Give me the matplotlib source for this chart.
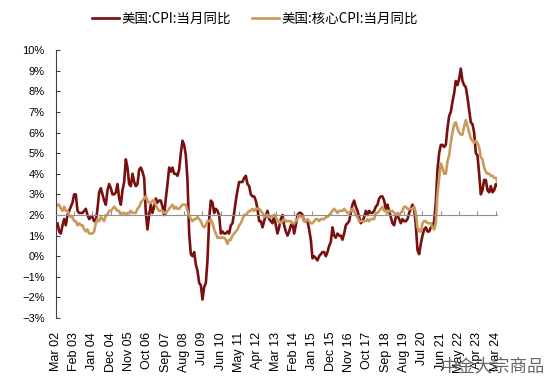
import numpy as np
import pandas as pd
import matplotlib
matplotlib.use('Agg')
import matplotlib.pyplot as plt

# 美国CPI同比, 2002-03 ~ 2024-04 (%)
cpi = [1.5, 1.6, 1.2, 1.1, 1.5, 1.8, 1.5, 2.0, 2.2, 2.4,
       2.6, 3.0, 3.0, 2.2, 2.1, 2.1, 2.1, 2.2, 2.3, 2.0, 1.8, 1.9,
       1.9, 1.7, 1.7, 2.3, 3.1, 3.3, 3.0, 2.7, 2.5, 3.2, 3.5, 3.3,
       3.0, 3.0, 3.1, 3.5, 2.8, 2.5, 3.2, 3.6, 4.7, 4.3, 3.5, 3.4,
       4.0, 3.6, 3.4, 3.5, 4.2, 4.3, 4.1, 3.8, 2.1, 1.3, 2.0, 2.5,
       2.1, 2.4, 2.8, 2.6, 2.7, 2.7, 2.4, 2.0, 2.8, 3.5, 4.3, 4.1,
       4.3, 4.0, 4.0, 3.9, 4.2, 5.0, 5.6, 5.4, 4.9, 3.7, 1.1, 0.1,
       0.0, 0.2, -0.4, -0.7, -1.3, -1.4, -2.1, -1.5, -1.3, -0.2, 1.8, 2.7,
       2.6, 2.1, 2.3, 2.2, 2.0, 1.1, 1.2, 1.1, 1.1, 1.2, 1.1, 1.5,
       1.6, 2.1, 2.7, 3.2, 3.6, 3.6, 3.6, 3.8, 3.9, 3.5, 3.4, 3.0,
       2.9, 2.9, 2.7, 2.3, 1.7, 1.7, 1.4, 1.7, 2.0, 2.2, 1.8, 1.7,
       1.6, 2.0, 1.5, 1.1, 1.4, 1.8, 2.0, 1.5, 1.2, 1.0, 1.2, 1.5,
       1.6, 1.1, 1.5, 2.0, 2.1, 2.1, 2.0, 1.7, 1.7, 1.7, 1.3, 0.8,
       -0.1, 0.0, -0.1, -0.2, 0.0, 0.1, 0.2, 0.2, 0.0, 0.2, 0.5, 0.7,
       1.4, 1.0, 0.9, 1.1, 1.0, 1.0, 0.8, 1.1, 1.5, 1.6, 1.7, 2.1,
       2.5, 2.7, 2.4, 2.2, 1.9, 1.6, 1.7, 1.9, 2.2, 2.0, 2.2, 2.1,
       2.1, 2.2, 2.4, 2.5, 2.8, 2.9, 2.9, 2.7, 2.3, 2.5, 2.2, 1.9,
       1.6, 1.5, 1.9, 2.0, 1.8, 1.6, 1.8, 1.7, 1.7, 1.8, 2.1, 2.3,
       2.5, 2.3, 1.5, 0.3, 0.1, 0.6, 1.0, 1.3, 1.4, 1.2, 1.2, 1.4,
       1.4, 1.7, 2.6, 4.2, 5.0, 5.4, 5.4, 5.3, 5.4, 6.2, 6.8, 7.0,
       7.5, 7.9, 8.5, 8.3, 8.6, 9.1, 8.5, 8.3, 8.2, 7.7, 7.1, 6.5,
       6.4, 6.0, 5.0, 4.9, 4.0, 3.0, 3.2, 3.7, 3.7, 3.2, 3.1, 3.4,
       3.1, 3.2, 3.5, 3.4]

# 美国核心CPI同比
core = [2.4, 2.5, 2.5, 2.3, 2.2, 2.4, 2.2, 2.2, 2.0, 1.9,
        1.9, 1.7, 1.7, 1.5, 1.6, 1.5, 1.5, 1.3, 1.2, 1.3, 1.1, 1.1,
        1.1, 1.2, 1.6, 1.8, 1.7, 1.9, 1.8, 1.7, 2.0, 2.0, 2.2, 2.2,
        2.3, 2.4, 2.3, 2.2, 2.2, 2.0, 2.1, 2.1, 2.0, 2.1, 2.1, 2.2,
        2.1, 2.1, 2.1, 2.3, 2.4, 2.6, 2.7, 2.8, 2.9, 2.7, 2.6, 2.6,
        2.7, 2.7, 2.5, 2.3, 2.2, 2.2, 2.2, 2.1, 2.1, 2.2, 2.3, 2.4,
        2.5, 2.3, 2.4, 2.3, 2.3, 2.4, 2.5, 2.5, 2.5, 2.2, 2.0, 1.8,
        1.7, 1.8, 1.8, 1.9, 1.8, 1.7, 1.5, 1.4, 1.5, 1.7, 1.7, 1.8,
        1.6, 1.3, 1.1, 0.9, 0.9, 0.9, 0.9, 0.9, 0.8, 0.6, 0.8, 0.8,
        1.0, 1.1, 1.2, 1.3, 1.5, 1.6, 1.8, 2.0, 2.0, 2.1, 2.2, 2.2,
        2.3, 2.2, 2.3, 2.3, 2.3, 2.2, 2.1, 1.9, 2.0, 2.0, 1.9, 1.9,
        1.9, 2.0, 1.9, 1.7, 1.7, 1.6, 1.7, 1.8, 1.7, 1.7, 1.7, 1.7,
        1.6, 1.6, 1.7, 1.8, 2.0, 1.9, 1.9, 1.7, 1.7, 1.8, 1.7, 1.6,
        1.6, 1.7, 1.8, 1.8, 1.7, 1.8, 1.8, 1.8, 1.9, 1.9, 2.0, 2.1,
        2.2, 2.3, 2.2, 2.1, 2.2, 2.2, 2.2, 2.3, 2.2, 2.1, 2.1, 2.2,
        2.3, 2.2, 2.0, 1.9, 1.7, 1.7, 1.7, 1.7, 1.7, 1.8, 1.7, 1.8,
        1.8, 1.8, 2.1, 2.1, 2.2, 2.3, 2.4, 2.2, 2.2, 2.1, 2.2, 2.2,
        2.2, 2.1, 2.0, 2.1, 2.0, 2.1, 2.2, 2.4, 2.4, 2.3, 2.3, 2.3,
        2.3, 2.4, 2.1, 1.4, 1.2, 1.2, 1.6, 1.7, 1.7, 1.6, 1.6, 1.6,
        1.4, 1.3, 1.6, 3.0, 3.8, 4.5, 4.3, 4.0, 4.0, 4.6, 4.9, 5.5,
        6.0, 6.4, 6.5, 6.2, 6.0, 5.9, 5.9, 6.3, 6.6, 6.3, 6.0, 5.7,
        5.6, 5.5, 5.6, 5.5, 5.3, 4.8, 4.7, 4.3, 4.1, 4.0, 4.0, 3.9,
        3.9, 3.8, 3.8, 3.6]

dates = pd.date_range('2002-03-01', periods=len(cpi), freq='MS')
yticks = list(range(-3, 11))
ytick_labels = [f"{v}%".replace('-', '\u2212') for v in yticks]

plt.rcParams['font.family'] = ['Liberation Sans', 'DejaVu Sans']

fig = plt.figure(figsize=(5.5, 3.86), dpi=100)
ax = fig.add_axes([0.1015, 0.176, 0.803, 0.6943])

x = np.arange(len(cpi))
ax.plot(x, cpi, color='#7a0f10', lw=1.9, label='美国:CPI:当月同比')
ax.plot(x, core, color='#c99a5a', lw=1.9, label='美国:核心CPI:当月同比')

ax.set_xlim(0, len(cpi) - 1)
ax.set_ylim(-3, 10)
ax.set_yticks(yticks, ytick_labels)
ax.tick_params(axis='y', direction='in', length=3, labelsize=8, pad=8,
               color='#404040')

# x轴线放在2%处
xt = x[::11]
ax.spines['bottom'].set_position(('data', 2))
ax.spines['bottom'].set_color('#909090')
ax.set_xticks(xt)
ax.tick_params(axis='x', direction='in', length=3, color='#909090',
               labelbottom=False)
for s in ['top', 'right']:
    ax.spines[s].set_visible(False)
ax.spines['left'].set_color('#404040')

sec = ax.secondary_xaxis('bottom')
sec.set_xticks(xt, [d.strftime('%b %y') for d in dates[::11]])
sec.tick_params(length=0, labelsize=9, pad=10, labelrotation=90)
sec.spines['bottom'].set_visible(False)

fig.legend(loc='center', bbox_to_anchor=(0.4636, 0.951), ncol=2,
           frameon=False, handlelength=2.0, handletextpad=0.25,
           columnspacing=1.5,
           prop={'family': ['Noto Sans CJK SC', 'DejaVu Sans'], 'size': 9.7})

fig.text(0.99, 0.05, '中金大宗商品', ha='right', va='center', fontsize=12.5,
         color='#666666', family=['Noto Sans CJK SC', 'DejaVu Sans'])

fig.savefig('out.png', dpi=100)
